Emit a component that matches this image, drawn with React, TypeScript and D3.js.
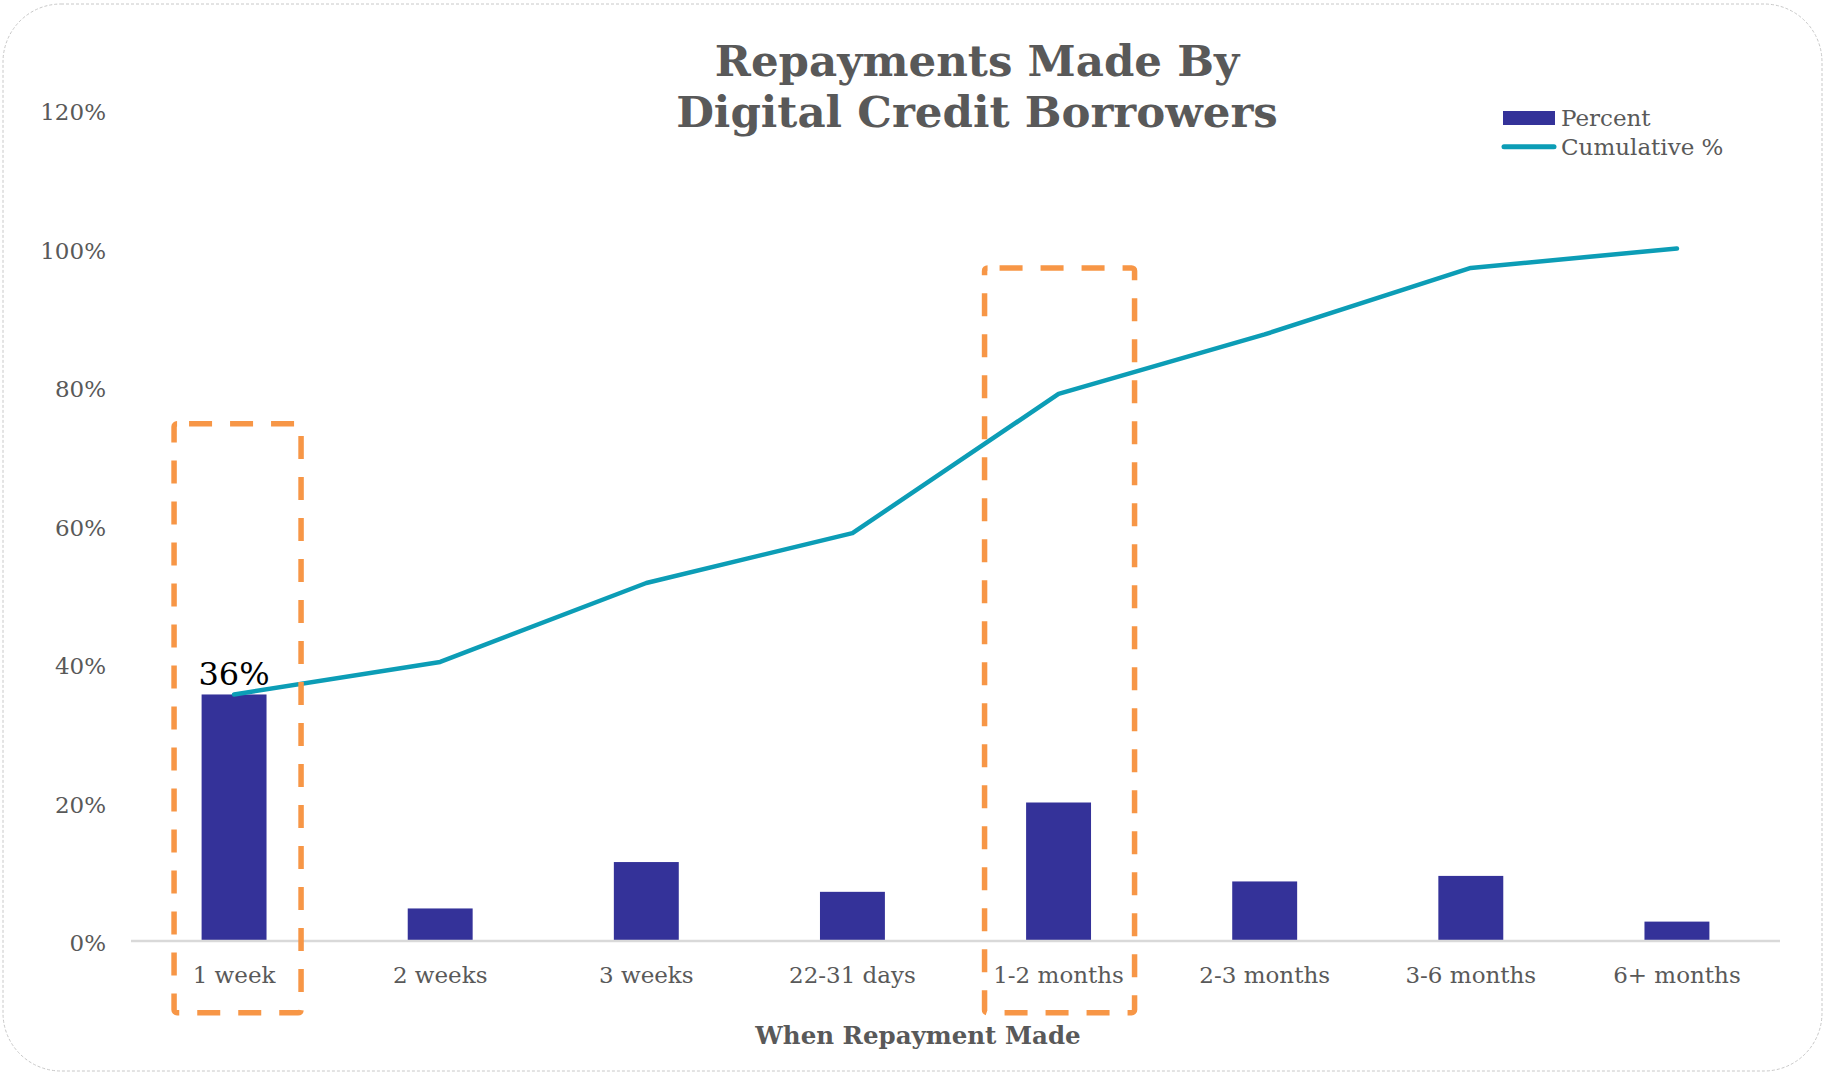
import React from "react";
import * as d3 from "d3";

const categories = ["1 week", "2 weeks", "3 weeks", "22-31 days", "1-2 months", "2-3 months", "3-6 months", "6+ months"];
const percentValues = [35.6, 4.7, 11.4, 7.1, 20.0, 8.6, 9.4, 2.8];
const cumulativeValues = [35.6, 40.3, 51.7, 58.9, 79.0, 87.6, 97.2, 100];
const yTicks = [0, 20, 40, 60, 80, 100, 120];
const barLabels = [{ category: "1 week", text: "36%" }];
const highlights = [
  { category: "1 week", top: 74.7 },
  { category: "1-2 months", top: 97.2 },
];
const titleLines = ["Repayments Made By", "Digital Credit Borrowers"];
const xAxisTitle = "When Repayment Made";
const legendItems = ["Percent", "Cumulative %"];

const W = 1824;
const H = 1074;
const FONT = "'DejaVu Serif', Georgia, serif";
const GRAY = "#595959";
const BAR = "#343299";
const LINE = "#0C9DB6";
const ORANGE = "#F79646";

export default function App() {
  const x = d3.scaleBand<string>().domain(categories).range([131, 1780]).padding(0);
  const y = d3.scaleLinear().domain([0, 120]).range([941, 110]);
  const bw = x.bandwidth();
  const barW = bw * 0.315;
  const cx = (c: string) => (x(c) as number) + bw / 2;

  const line = d3
    .line<number>()
    .x((_, i) => cx(categories[i]))
    .y((d) => y(d));

  const boxOffsets = [
    [-60, 67],
    [-74, 76],
  ];

  return (
    <svg width={W} height={H} style={{ position: "absolute", left: 0, top: 0, background: "#fff" }}>
      <rect x={3} y={4} width={1819} height={1067} rx={58} ry={58} fill="#fff" stroke="#C8C8C8" strokeWidth={1} strokeDasharray="3 2" />

      {/* title */}
      {titleLines.map((t, i) => (
        <text key={t} x={977} y={76 + i * 51} textAnchor="middle" fontFamily={FONT} fontWeight="bold" fontSize={43.5} fill={GRAY}>
          {t}
        </text>
      ))}

      {/* y tick labels */}
      {yTicks.map((t) => (
        <text key={t} x={106} y={y(t) + 2} dy="0.35em" textAnchor="end" fontFamily={FONT} fontSize={23} fill={GRAY}>
          {t + "%"}
        </text>
      ))}

      {/* bars */}
      {categories.map((c, i) => (
        <rect key={c} x={cx(c) - barW / 2} y={y(percentValues[i])} width={barW} height={y(0) - y(percentValues[i])} fill={BAR} />
      ))}

      {/* axis line */}
      <line x1={131} x2={1780} y1={y(0)} y2={y(0)} stroke="#D9D9D9" strokeWidth={2.5} />

      {/* x labels */}
      {categories.map((c) => (
        <text key={c} x={cx(c)} y={983} textAnchor="middle" fontFamily={FONT} fontSize={23} fill={GRAY}>
          {c}
        </text>
      ))}

      {/* cumulative line */}
      <path d={line(cumulativeValues) || ""} fill="none" stroke={LINE} strokeWidth={4.5} strokeLinejoin="round" strokeLinecap="round" />

      {/* bar label */}
      {barLabels.map((b) => {
        const i = categories.indexOf(b.category);
        return (
          <text key={b.text} x={cx(b.category)} y={y(percentValues[i]) - 9} textAnchor="middle" fontFamily={FONT} fontSize={32} fill="#000">
            {b.text}
          </text>
        );
      })}

      {/* highlight boxes */}
      {highlights.map((h, i) => {
        const c = cx(h.category);
        const x0 = c + boxOffsets[i][0];
        const x1 = c + boxOffsets[i][1];
        const y0 = y(h.top);
        const y1 = 1012.7;
        return (
          <rect key={h.category} x={x0} y={y0} width={x1 - x0} height={y1 - y0} rx={3} fill="none" stroke={ORANGE} strokeWidth={5.5} strokeDasharray="23 18" strokeDashoffset={-12} />
        );
      })}

      {/* x axis title */}
      <text x={918} y={1044} textAnchor="middle" fontFamily={FONT} fontWeight="bold" fontSize={24.5} fill={GRAY}>
        {xAxisTitle}
      </text>

      {/* legend */}
      <rect x={1503} y={111} width={52} height={14} fill={BAR} />
      <line x1={1504} x2={1554} y1={146.7} y2={146.7} stroke={LINE} strokeWidth={5} strokeLinecap="round" />
      {legendItems.map((t, i) => (
        <text key={t} x={1561} y={126 + i * 29} fontFamily={FONT} fontSize={23} fill={GRAY}>
          {t}
        </text>
      ))}
    </svg>
  );
}
